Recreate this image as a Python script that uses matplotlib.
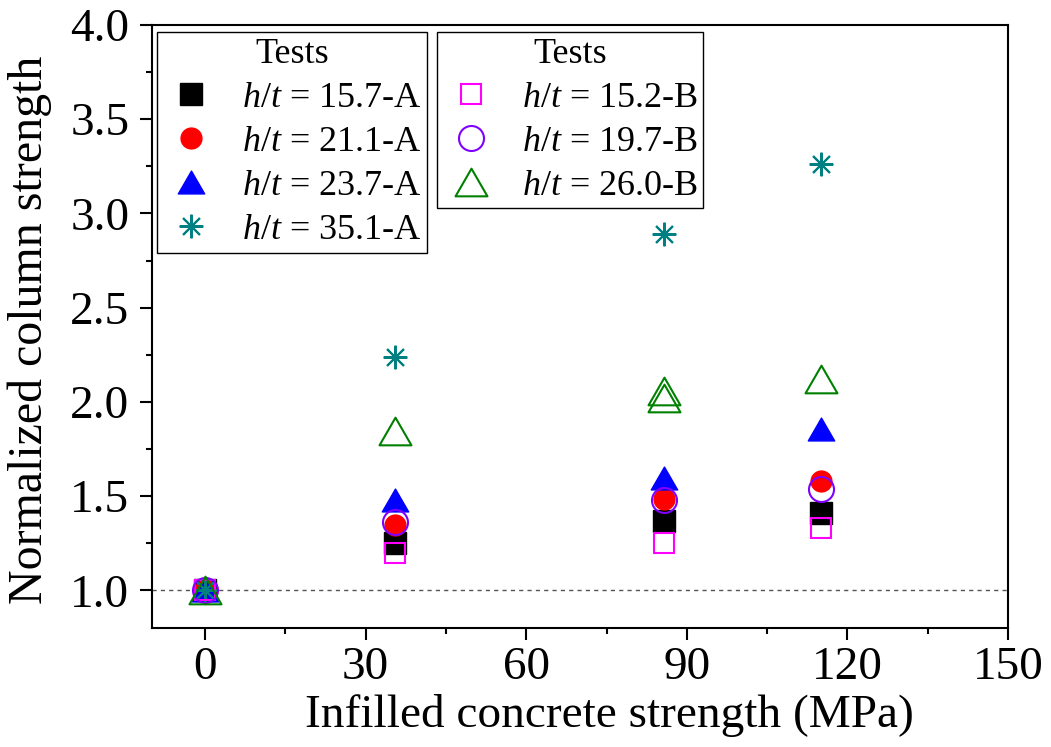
import numpy as np
import matplotlib
matplotlib.use("Agg")
import matplotlib.pyplot as plt
from matplotlib.ticker import MultipleLocator, FormatStrFormatter
from matplotlib.path import Path

plt.rcParams.update({'font.family': 'Liberation Serif',
                     'mathtext.fontset': 'custom',
                     'mathtext.rm': 'Liberation Serif',
                     'mathtext.it': 'Liberation Serif:italic'})

# data
x_a = [0, 35.5, 85.8, 115]
ht157A = [1.0, 1.25, 1.37, 1.41]
ht211A = [1.0, 1.345, 1.485, 1.58]
ht237A = [1.0, 1.48, 1.595, 1.855]
ht351A = [1.0, 2.24, 2.89, 3.26]

x_b = [0, 35.5, 85.8, 115]
ht152B = [1.0, 1.20, 1.25, 1.33]
ht197B = [1.0, 1.36, 1.48, 1.54]
x_b26 = [0, 35.5, 85.8, 85.8, 115]
ht260B = [1.0, 1.845, 2.06, 2.02, 2.12]

labels_a = ['15.7-A', '21.1-A', '23.7-A', '35.1-A']
labels_b = ['15.2-B', '19.7-B', '26.0-B']

# equilateral triangle, closed so hollow ones get all three sides
tri = Path([(0, 0.75), (-0.866, -0.75), (0.866, -0.75), (0, 0.75)],
           [Path.MOVETO, Path.LINETO, Path.LINETO, Path.CLOSEPOLY])

fig = plt.figure(figsize=(10.51, 7.47), dpi=100)
ax = fig.add_axes([0.1442, 0.1593, 0.8149, 0.8072])

ax.axhline(1.0, color='#555555', lw=1, ls=(0, (3, 3)), zorder=1)

ha = []
ha.append(ax.plot(x_a, ht157A, ls='none', marker='s', ms=16, color='black', mec='black')[0])
ha.append(ax.plot(x_a, ht211A, ls='none', marker='o', ms=15, color='red', mec='red')[0])
ha.append(ax.plot(x_a, ht237A, ls='none', marker=tri, ms=19, color='blue', mec='blue')[0])
ha.append(ax.plot(x_a, ht351A, ls='none', marker=(8, 2, 0), ms=17, color='#008080', mew=1.5)[0])

hb = []
hb.append(ax.plot(x_b, ht152B, ls='none', marker='s', ms=15, mfc='none', mec='#ff00ff', mew=1.5)[0])
hb.append(ax.plot(x_b, ht197B, ls='none', marker='o', ms=18, mfc='none', mec='#8000ff', mew=1.5)[0])
hb.append(ax.plot(x_b26, ht260B, ls='none', marker=tri, ms=23, mfc='none', mec='#008000', mew=1.5)[0])

ax.set_xlim(-10, 150)
ax.set_ylim(0.8, 4.0)
ax.xaxis.set_major_locator(MultipleLocator(30))
ax.xaxis.set_minor_locator(MultipleLocator(15))
ax.yaxis.set_major_locator(MultipleLocator(0.5))
ax.yaxis.set_minor_locator(MultipleLocator(0.25))
ax.yaxis.set_major_formatter(FormatStrFormatter('%.1f'))
ax.tick_params(which='major', direction='out', length=8.5, width=1.5, labelsize=34)
ax.tick_params(which='minor', direction='out', length=4.5, width=1.5)
ax.tick_params(axis='x', which='major', pad=5)
ax.tick_params(axis='y', which='major', pad=7.5)
for s in ax.spines.values():
    s.set_linewidth(1.5)

ax.set_xlabel('Infilled concrete strength (MPa)', fontsize=34)
ax.set_ylabel('Normalized column strength', fontsize=34.5)
ax.xaxis.set_label_coords(0.535, -0.11)
ax.yaxis.set_label_coords(-0.116, 0.494)

leg_kw = dict(title='Tests', loc='upper left', borderaxespad=0, fontsize=26,
              title_fontsize=26, fancybox=False, edgecolor='black', framealpha=1,
              handletextpad=0.6, handlelength=1.6, labelspacing=0.3, borderpad=0.15)
lg1 = ax.legend(ha, [r'$h/t$ = ' + l for l in labels_a], bbox_to_anchor=(0.0064, 0.988), **leg_kw)
lg1.get_frame().set_linewidth(1)
ax.add_artist(lg1)
lg2 = ax.legend(hb, [r'$h/t$ = ' + l for l in labels_b], bbox_to_anchor=(0.333, 0.988), **leg_kw)
lg2.get_frame().set_linewidth(1)

fig.savefig('out.png', dpi=100)
